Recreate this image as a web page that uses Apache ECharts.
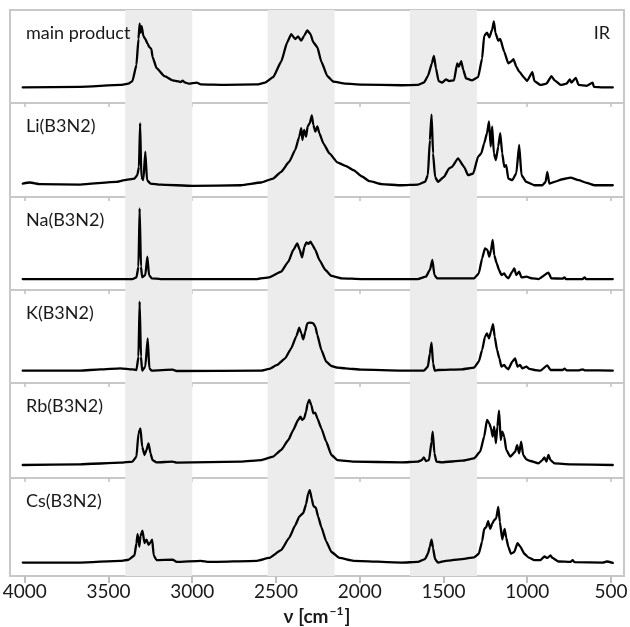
<!DOCTYPE html>
<html>
<head>
<meta charset="utf-8">
<title>IR spectra</title>
<script src="https://cdn.jsdelivr.net/npm/echarts@6/dist/echarts.min.js"></script>
<style>
  html, body { margin: 0; padding: 0; background: #fff; }
  #chart { width: 630px; height: 627px; }
</style>
</head>
<body>
<div id="chart"></div>
<script>
// Wavenumber axis (cm^-1), drawn high to low
const tickValues = [4000, 3500, 3000, 2500, 2000, 1500, 1000, 500];
const axisRange = [422, 4088];
// Shaded wavenumber regions
const bands = [[3400, 3000], [2550, 2150], [1700, 1300]];

const panelNames = ['main product', 'Li(B3N2)', 'Na(B3N2)', 'K(B3N2)', 'Rb(B3N2)', 'Cs(B3N2)'];

// Spectra: [wavenumber, relative intensity within the panel]
const mainProduct = [
  [4012,0.167],[3669,0.174],[3429,0.194],[3381,0.208],[3357,0.236],[3333,0.41],[3321,0.688],[3314,0.854],
  [3309,0.757],[3302,0.826],[3292,0.722],[3280,0.688],[3266,0.635],[3256,0.6],[3244,0.583],[3237,0.497],
  [3213,0.375],[3165,0.288],[3117,0.243],[3069,0.226],[3057,0.24],[3045,0.222],[3021,0.208],[2973,0.219],
  [2949,0.2],[2805,0.194],[2613,0.2],[2565,0.219],[2517,0.278],[2469,0.444],[2433,0.653],[2409,0.74],
  [2385,0.688],[2368,0.715],[2349,0.67],[2332,0.722],[2313,0.781],[2294,0.74],[2277,0.653],[2253,0.6],
  [2229,0.444],[2193,0.288],[2157,0.229],[2085,0.208],[1989,0.198],[1749,0.191],[1653,0.194],[1617,0.219],
  [1593,0.288],[1569,0.427],[1557,0.507],[1545,0.375],[1529,0.236],[1509,0.219],[1485,0.253],[1466,0.236],
  [1437,0.243],[1418,0.427],[1408,0.392],[1394,0.451],[1382,0.358],[1365,0.264],[1329,0.243],[1293,0.278],
  [1269,0.479],[1257,0.722],[1240,0.757],[1226,0.705],[1209,0.792],[1199,0.878],[1190,0.757],[1173,0.67],
  [1161,0.688],[1137,0.549],[1113,0.427],[1097,0.444],[1082,0.472],[1065,0.392],[1049,0.34],[1017,0.271],
  [1001,0.236],[969,0.333],[957,0.236],[921,0.194],[885,0.208],[855,0.288],[836,0.243],[800,0.194],
  [765,0.208],[746,0.253],[736,0.219],[710,0.271],[693,0.194],[645,0.184],[609,0.219],[602,0.174],
  [549,0.167],[489,0.167]
];
const liB3N2 = [
  [4012,0.143],[3969,0.154],[3909,0.136],[3669,0.132],[3453,0.161],[3405,0.179],[3345,0.196],[3328,0.232],
  [3318,0.321],[3311,0.786],[3304,0.214],[3292,0.179],[3280,0.482],[3270,0.179],[3249,0.143],[3189,0.132],
  [2997,0.118],[2709,0.125],[2589,0.154],[2517,0.196],[2469,0.268],[2421,0.375],[2385,0.5],[2361,0.643],
  [2349,0.732],[2342,0.607],[2332,0.714],[2320,0.643],[2311,0.75],[2298,0.786],[2286,0.868],[2277,0.768],
  [2265,0.696],[2253,0.75],[2241,0.679],[2217,0.571],[2181,0.464],[2133,0.368],[2085,0.332],[2037,0.286],
  [1989,0.221],[1941,0.168],[1869,0.136],[1749,0.125],[1653,0.132],[1610,0.161],[1593,0.232],[1581,0.607],
  [1571,0.875],[1562,0.464],[1550,0.214],[1533,0.161],[1497,0.214],[1466,0.304],[1449,0.321],[1413,0.411],
  [1377,0.321],[1353,0.232],[1322,0.25],[1293,0.429],[1274,0.464],[1257,0.571],[1240,0.679],[1228,0.804],
  [1218,0.536],[1209,0.75],[1199,0.464],[1187,0.393],[1173,0.536],[1161,0.679],[1149,0.464],[1137,0.321],
  [1125,0.339],[1113,0.196],[1089,0.179],[1065,0.25],[1048,0.554],[1034,0.232],[1005,0.161],[957,0.125],
  [909,0.125],[890,0.161],[880,0.268],[868,0.143],[837,0.161],[789,0.189],[741,0.207],[693,0.179],
  [645,0.15],[597,0.125],[489,0.125]
];
const naB3N2 = [
  [4012,0.118],[3357,0.118],[3333,0.136],[3321,0.251],[3314,0.878],[3306,0.251],[3299,0.136],[3280,0.161],
  [3268,0.358],[3258,0.161],[3242,0.125],[3189,0.118],[2613,0.118],[2541,0.136],[2469,0.197],[2426,0.305],
  [2397,0.43],[2373,0.502],[2358,0.43],[2344,0.351],[2330,0.466],[2318,0.513],[2306,0.495],[2294,0.52],
  [2282,0.484],[2265,0.43],[2241,0.323],[2205,0.215],[2169,0.151],[2109,0.125],[1989,0.118],[1653,0.118],
  [1605,0.143],[1581,0.215],[1566,0.323],[1554,0.161],[1538,0.125],[1317,0.125],[1289,0.179],[1269,0.341],
  [1252,0.448],[1238,0.43],[1226,0.358],[1216,0.43],[1206,0.538],[1197,0.376],[1182,0.287],[1168,0.215],
  [1154,0.161],[1137,0.179],[1125,0.143],[1113,0.125],[1089,0.197],[1077,0.233],[1065,0.161],[1048,0.197],
  [1034,0.136],[1005,0.143],[969,0.125],[933,0.118],[873,0.186],[856,0.125],[789,0.122],[777,0.136],
  [770,0.118],[669,0.118],[657,0.136],[650,0.118],[489,0.118]
];
const kB3N2 = [
  [4012,0.133],[3669,0.133],[3549,0.147],[3429,0.158],[3357,0.147],[3333,0.14],[3321,0.283],[3314,0.875],
  [3306,0.283],[3299,0.133],[3280,0.176],[3266,0.48],[3256,0.158],[3242,0.133],[3117,0.143],[3093,0.129],
  [2589,0.133],[2541,0.151],[2493,0.194],[2445,0.265],[2409,0.373],[2378,0.505],[2361,0.595],[2349,0.534],
  [2337,0.47],[2325,0.552],[2313,0.642],[2296,0.649],[2277,0.642],[2265,0.606],[2253,0.516],[2229,0.355],
  [2200,0.229],[2169,0.183],[2133,0.165],[2085,0.158],[1989,0.143],[1749,0.133],[1617,0.133],[1593,0.176],
  [1581,0.319],[1571,0.434],[1562,0.211],[1552,0.133],[1533,0.14],[1389,0.147],[1317,0.165],[1289,0.229],
  [1269,0.355],[1252,0.498],[1240,0.534],[1228,0.48],[1216,0.552],[1204,0.634],[1194,0.498],[1180,0.355],
  [1166,0.265],[1154,0.176],[1137,0.194],[1125,0.165],[1113,0.147],[1089,0.229],[1072,0.265],[1058,0.176],
  [1043,0.194],[1029,0.158],[1005,0.176],[986,0.151],[957,0.14],[921,0.133],[880,0.19],[861,0.14],
  [789,0.14],[777,0.154],[765,0.136],[693,0.136],[669,0.147],[657,0.136],[489,0.133]
];
const rbB3N2 = [
  [4012,0.137],[3669,0.144],[3429,0.161],[3357,0.172],[3333,0.225],[3321,0.47],[3309,0.523],[3299,0.33],
  [3285,0.242],[3273,0.295],[3261,0.365],[3249,0.26],[3237,0.189],[3213,0.165],[3117,0.172],[3093,0.161],
  [2709,0.172],[2589,0.189],[2517,0.225],[2469,0.295],[2426,0.4],[2397,0.505],[2368,0.611],[2354,0.646],
  [2344,0.611],[2332,0.628],[2320,0.698],[2311,0.786],[2301,0.821],[2289,0.768],[2277,0.681],[2265,0.688],
  [2253,0.628],[2229,0.523],[2200,0.382],[2169,0.242],[2133,0.189],[2037,0.172],[1749,0.165],[1653,0.172],
  [1629,0.189],[1617,0.218],[1605,0.179],[1586,0.189],[1571,0.382],[1564,0.488],[1554,0.26],[1542,0.172],
  [1509,0.165],[1389,0.182],[1317,0.207],[1281,0.277],[1257,0.435],[1240,0.611],[1226,0.575],[1216,0.523],
  [1206,0.435],[1197,0.54],[1187,0.365],[1178,0.54],[1168,0.709],[1158,0.4],[1149,0.488],[1137,0.435],
  [1125,0.295],[1101,0.225],[1072,0.277],[1060,0.347],[1048,0.26],[1036,0.382],[1024,0.242],[1005,0.196],
  [981,0.179],[933,0.154],[909,0.189],[897,0.218],[885,0.172],[873,0.242],[861,0.189],[837,0.154],
  [741,0.144],[489,0.137]
];
const csB3N2 = [
  [4012,0.137],[3669,0.137],[3429,0.155],[3381,0.166],[3345,0.209],[3333,0.336],[3326,0.426],[3316,0.3],
  [3309,0.408],[3297,0.462],[3285,0.336],[3273,0.372],[3261,0.318],[3249,0.343],[3239,0.372],[3230,0.209],
  [3213,0.162],[3117,0.166],[3093,0.144],[2949,0.155],[2901,0.144],[2613,0.155],[2541,0.184],[2469,0.264],
  [2421,0.39],[2385,0.516],[2361,0.606],[2337,0.643],[2320,0.733],[2308,0.841],[2298,0.877],[2286,0.787],
  [2277,0.715],[2262,0.697],[2248,0.606],[2229,0.498],[2200,0.354],[2169,0.245],[2121,0.184],[2037,0.155],
  [1749,0.137],[1653,0.144],[1610,0.173],[1593,0.227],[1581,0.3],[1571,0.372],[1562,0.282],[1550,0.173],
  [1533,0.137],[1485,0.155],[1389,0.173],[1317,0.191],[1289,0.227],[1269,0.354],[1257,0.48],[1245,0.498],
  [1233,0.56],[1221,0.48],[1209,0.534],[1197,0.57],[1185,0.588],[1173,0.704],[1163,0.552],[1149,0.372],
  [1135,0.48],[1125,0.39],[1113,0.3],[1097,0.227],[1077,0.245],[1058,0.336],[1041,0.3],[1017,0.227],
  [993,0.191],[957,0.162],[921,0.162],[897,0.199],[880,0.184],[861,0.209],[849,0.184],[813,0.148],
  [741,0.144],[729,0.162],[717,0.141],[549,0.137],[525,0.148],[489,0.134]
];
const spectra = [mainProduct, liB3N2, naB3N2, kB3N2, rbB3N2, csB3N2];

// Panel layout (pixels)
const panelEdges = [10, 103, 197, 290, 383, 478, 576];
const FONT = 'Lato, "Open Sans", sans-serif';

const grids = [], xAxes = [], yAxes = [], series = [], titles = [];
const last = spectra.length - 1;

spectra.forEach((data, i) => {
  const top = panelEdges[i];
  const height = panelEdges[i + 1] - panelEdges[i];
  grids.push({
    left: 10, right: 6, top: top, height: height,
    outerBoundsMode: 'none', containLabel: false,
    show: true, backgroundColor: '#fff',
    borderColor: '#c8c8c8', borderWidth: 2
  });
  // top axis of each panel: short inner ticks
  xAxes.push({
    type: 'value', gridIndex: i, position: 'top', inverse: true,
    min: axisRange[0], max: axisRange[1],
    axisLine: { show: false },
    axisTick: { show: true, inside: true, length: 4, customValues: tickValues,
                lineStyle: { color: '#c0c0c0', width: 1.5 } },
    axisLabel: { show: false },
    splitLine: { show: false }
  });
  yAxes.push({ type: 'value', gridIndex: i, min: 0, max: 1, show: false });
  series.push({
    type: 'line', xAxisIndex: i, yAxisIndex: i,
    data: data, showSymbol: false, symbol: 'none',
    smooth: 0.15, smoothMonotone: 'x',
    lineStyle: { color: '#000', width: 2.3, join: 'round', cap: 'round' },
    silent: true,
    markArea: {
      silent: true,
      itemStyle: { color: '#ececec' },
      data: bands.map(b => [{ xAxis: b[0] }, { xAxis: b[1] }])
    },
    z: 3
  });
  titles.push({
    text: panelNames[i], left: 21, top: top + 9,
    textStyle: { fontFamily: FONT, fontSize: 18, fontWeight: 'normal', color: '#1a1a1a' }
  });
});

titles.push({
  text: 'IR', right: 15, top: panelEdges[0] + 9,
  textStyle: { fontFamily: FONT, fontSize: 18, fontWeight: 'normal', color: '#1a1a1a' }
});

// bottom axis with labels under the last panel
xAxes.push({
  type: 'value', gridIndex: last, position: 'bottom', inverse: true,
  min: axisRange[0], max: axisRange[1],
  axisLine: { show: false },
  axisTick: { show: true, inside: false, length: 7, customValues: tickValues,
              lineStyle: { color: '#c0c0c0', width: 2 } },
  axisLabel: { show: true, customValues: tickValues, margin: 6,
               formatter: v => String(v),
               fontFamily: FONT, fontSize: 19, color: '#1a1a1a' },
  splitLine: { show: false },
  name: '{b|ν [cm}{s|−1}{b|]}',
  nameLocation: 'middle', nameGap: 29,
  nameTextStyle: {
    rich: {
      b: { fontFamily: FONT, fontSize: 19, fontWeight: 'bold', color: '#1a1a1a' },
      s: { fontFamily: FONT, fontSize: 12, fontWeight: 'bold', color: '#1a1a1a', padding: [0, 1, 11, 1] }
    }
  }
});

const chart = echarts.init(document.getElementById('chart'), null, { renderer: 'canvas' });
chart.setOption({
  animation: false,
  backgroundColor: '#fff',
  title: titles,
  grid: grids,
  xAxis: xAxes,
  yAxis: yAxes,
  series: series
});
</script>
</body>
</html>
